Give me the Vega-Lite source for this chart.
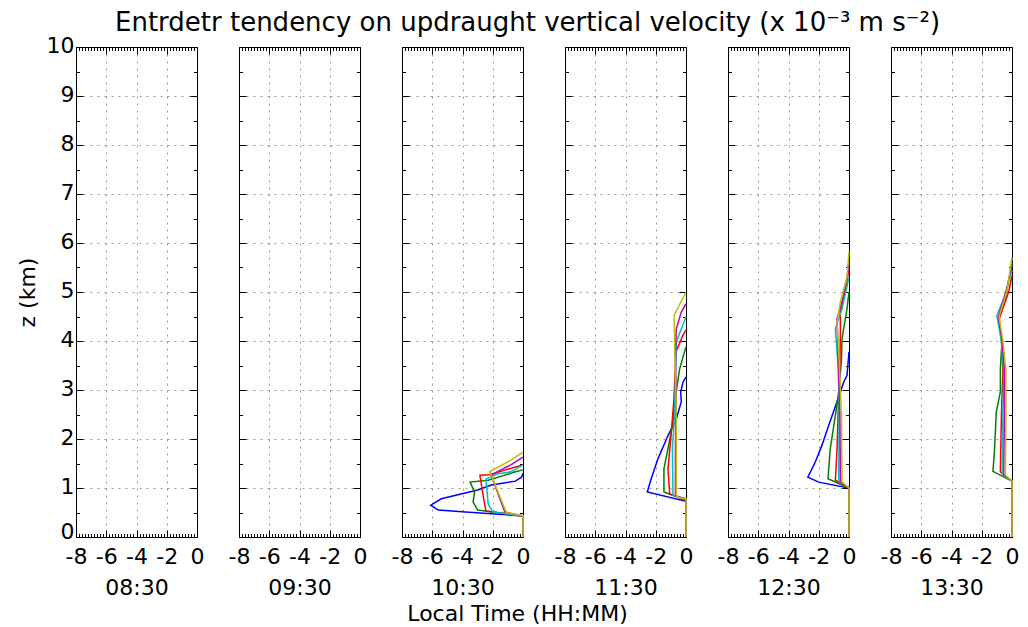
{
  "$schema": "https://vega.github.io/schema/vega-lite/v6.json",
  "autosize": {"type": "pad"},
  "padding": {"left": 15, "top": 9, "right": 5, "bottom": 0},
  "background": "white",
  "title": {"text": "Entrdetr tendency on updraught vertical velocity (x 10⁻³ m s⁻²)", "fontSize": 26, "font": "DejaVu Sans", "fontWeight": "normal", "color": "black", "anchor": "middle", "offset": -2, "dx": 10},
  "datasets": {
    "d": [
      {"t":"10:30","s":"s1","x":0,"z":0},{"t":"10:30","s":"s1","x":0,"z":0.43},{"t":"10:30","s":"s1","x":-3.8,"z":0.51},{"t":"10:30","s":"s1","x":-5.6,"z":0.55},{"t":"10:30","s":"s1","x":-6.1,"z":0.65},{"t":"10:30","s":"s1","x":-5.4,"z":0.78},{"t":"10:30","s":"s1","x":-3.0,"z":0.96},{"t":"10:30","s":"s1","x":-2.1,"z":1.06},{"t":"10:30","s":"s1","x":-0.5,"z":1.14},{"t":"10:30","s":"s1","x":-0.1,"z":1.22},{"t":"10:30","s":"s1","x":0,"z":1.3},
      {"t":"10:30","s":"s2","x":0,"z":0},{"t":"10:30","s":"s2","x":0,"z":0.43},{"t":"10:30","s":"s2","x":-3.0,"z":0.55},{"t":"10:30","s":"s2","x":-3.3,"z":0.71},{"t":"10:30","s":"s2","x":-3.2,"z":0.92},{"t":"10:30","s":"s2","x":-3.5,"z":1.12},{"t":"10:30","s":"s2","x":-2.3,"z":1.16},{"t":"10:30","s":"s2","x":-0.5,"z":1.33},{"t":"10:30","s":"s2","x":0,"z":1.37},
      {"t":"10:30","s":"s3","x":0,"z":0},{"t":"10:30","s":"s3","x":0,"z":0.43},{"t":"10:30","s":"s3","x":-2.45,"z":0.53},{"t":"10:30","s":"s3","x":-2.6,"z":0.78},{"t":"10:30","s":"s3","x":-2.85,"z":1.26},{"t":"10:30","s":"s3","x":-2.2,"z":1.27},{"t":"10:30","s":"s3","x":-0.5,"z":1.43},{"t":"10:30","s":"s3","x":0,"z":1.47},
      {"t":"10:30","s":"s4","x":0,"z":0},{"t":"10:30","s":"s4","x":0,"z":0.43},{"t":"10:30","s":"s4","x":-2.0,"z":0.51},{"t":"10:30","s":"s4","x":-2.3,"z":0.67},{"t":"10:30","s":"s4","x":-2.45,"z":1.18},{"t":"10:30","s":"s4","x":-1.65,"z":1.29},{"t":"10:30","s":"s4","x":-0.8,"z":1.33},{"t":"10:30","s":"s4","x":0,"z":1.47},
      {"t":"10:30","s":"s5","x":0,"z":0},{"t":"10:30","s":"s5","x":0,"z":0.43},{"t":"10:30","s":"s5","x":-1.2,"z":0.51},{"t":"10:30","s":"s5","x":-2.1,"z":1.26},{"t":"10:30","s":"s5","x":-1.6,"z":1.35},{"t":"10:30","s":"s5","x":-0.8,"z":1.47},{"t":"10:30","s":"s5","x":0,"z":1.63},
      {"t":"10:30","s":"s6","x":0,"z":0},{"t":"10:30","s":"s6","x":0,"z":0.43},{"t":"10:30","s":"s6","x":-1.1,"z":0.5},{"t":"10:30","s":"s6","x":-2.2,"z":1.33},{"t":"10:30","s":"s6","x":-0.8,"z":1.57},{"t":"10:30","s":"s6","x":0,"z":1.73},

      {"t":"11:30","s":"s1","x":0,"z":0},{"t":"11:30","s":"s1","x":0,"z":0.73},{"t":"11:30","s":"s1","x":-2.56,"z":0.92},{"t":"11:30","s":"s1","x":-2.3,"z":1.19},{"t":"11:30","s":"s1","x":-1.85,"z":1.6},{"t":"11:30","s":"s1","x":-1.19,"z":2.07},{"t":"11:30","s":"s1","x":-0.64,"z":2.41},{"t":"11:30","s":"s1","x":-0.31,"z":2.76},{"t":"11:30","s":"s1","x":-0.35,"z":2.96},{"t":"11:30","s":"s1","x":-0.2,"z":3.16},{"t":"11:30","s":"s1","x":0,"z":3.27},
      {"t":"11:30","s":"s2","x":0,"z":0},{"t":"11:30","s":"s2","x":0,"z":0.75},{"t":"11:30","s":"s2","x":-1.46,"z":0.92},{"t":"11:30","s":"s2","x":-1.46,"z":1.39},{"t":"11:30","s":"s2","x":-1.19,"z":1.8},{"t":"11:30","s":"s2","x":-0.86,"z":2.35},{"t":"11:30","s":"s2","x":-0.75,"z":2.76},{"t":"11:30","s":"s2","x":-0.42,"z":3.43},{"t":"11:30","s":"s2","x":-0.2,"z":3.67},{"t":"11:30","s":"s2","x":0,"z":3.88},
      {"t":"11:30","s":"s3","x":0,"z":0},{"t":"11:30","s":"s3","x":0,"z":0.76},{"t":"11:30","s":"s3","x":-1.08,"z":0.88},{"t":"11:30","s":"s3","x":-1.19,"z":1.39},{"t":"11:30","s":"s3","x":-0.97,"z":2.14},{"t":"11:30","s":"s3","x":-0.8,"z":2.8},{"t":"11:30","s":"s3","x":-0.66,"z":3.78},{"t":"11:30","s":"s3","x":-0.2,"z":4.12},{"t":"11:30","s":"s3","x":0,"z":4.22},
      {"t":"11:30","s":"s4","x":0,"z":0},{"t":"11:30","s":"s4","x":0,"z":0.77},{"t":"11:30","s":"s4","x":-0.86,"z":0.85},{"t":"11:30","s":"s4","x":-0.9,"z":1.8},{"t":"11:30","s":"s4","x":-0.75,"z":2.48},{"t":"11:30","s":"s4","x":-0.7,"z":3.2},{"t":"11:30","s":"s4","x":-0.64,"z":3.98},{"t":"11:30","s":"s4","x":-0.31,"z":4.25},{"t":"11:30","s":"s4","x":0,"z":4.49},
      {"t":"11:30","s":"s5","x":0,"z":0},{"t":"11:30","s":"s5","x":0,"z":0.78},{"t":"11:30","s":"s5","x":-0.7,"z":0.84},{"t":"11:30","s":"s5","x":-0.7,"z":1.8},{"t":"11:30","s":"s5","x":-0.65,"z":2.8},{"t":"11:30","s":"s5","x":-0.7,"z":3.7},{"t":"11:30","s":"s5","x":-0.64,"z":4.25},{"t":"11:30","s":"s5","x":-0.31,"z":4.59},{"t":"11:30","s":"s5","x":0,"z":4.76},
      {"t":"11:30","s":"s6","x":0,"z":0},{"t":"11:30","s":"s6","x":0,"z":0.78},{"t":"11:30","s":"s6","x":-0.64,"z":0.82},{"t":"11:30","s":"s6","x":-0.64,"z":2.49},{"t":"11:30","s":"s6","x":-0.75,"z":3.98},{"t":"11:30","s":"s6","x":-0.79,"z":4.52},{"t":"11:30","s":"s6","x":0,"z":5.0},

      {"t":"12:30","s":"s1","x":0,"z":0},{"t":"12:30","s":"s1","x":0,"z":1.0},{"t":"12:30","s":"s1","x":-2.0,"z":1.12},{"t":"12:30","s":"s1","x":-2.72,"z":1.22},{"t":"12:30","s":"s1","x":-2.23,"z":1.53},{"t":"12:30","s":"s1","x":-1.79,"z":1.87},{"t":"12:30","s":"s1","x":-1.34,"z":2.28},{"t":"12:30","s":"s1","x":-0.79,"z":2.76},{"t":"12:30","s":"s1","x":-0.35,"z":3.16},{"t":"12:30","s":"s1","x":-0.13,"z":3.3},{"t":"12:30","s":"s1","x":0,"z":3.78},
      {"t":"12:30","s":"s2","x":0,"z":0},{"t":"12:30","s":"s2","x":0,"z":1.0},{"t":"12:30","s":"s2","x":-1.39,"z":1.19},{"t":"12:30","s":"s2","x":-1.24,"z":1.8},{"t":"12:30","s":"s2","x":-0.9,"z":2.48},{"t":"12:30","s":"s2","x":-0.68,"z":2.96},{"t":"12:30","s":"s2","x":-0.5,"z":3.6},{"t":"12:30","s":"s2","x":-0.46,"z":4.05},{"t":"12:30","s":"s2","x":-0.13,"z":4.66},{"t":"12:30","s":"s2","x":0,"z":5.0},
      {"t":"12:30","s":"s3","x":0,"z":0},{"t":"12:30","s":"s3","x":0,"z":1.0},{"t":"12:30","s":"s3","x":-0.9,"z":1.16},{"t":"12:30","s":"s3","x":-0.79,"z":1.8},{"t":"12:30","s":"s3","x":-0.68,"z":2.96},{"t":"12:30","s":"s3","x":-0.6,"z":3.6},{"t":"12:30","s":"s3","x":-0.57,"z":4.12},{"t":"12:30","s":"s3","x":-0.57,"z":4.59},{"t":"12:30","s":"s3","x":-0.13,"z":5.2},{"t":"12:30","s":"s3","x":0,"z":5.5},
      {"t":"12:30","s":"s4","x":0,"z":0},{"t":"12:30","s":"s4","x":0,"z":1.0},{"t":"12:30","s":"s4","x":-0.68,"z":1.14},{"t":"12:30","s":"s4","x":-0.65,"z":2.5},{"t":"12:30","s":"s4","x":-0.7,"z":3.4},{"t":"12:30","s":"s4","x":-0.9,"z":4.25},{"t":"12:30","s":"s4","x":-0.46,"z":4.66},{"t":"12:30","s":"s4","x":0,"z":5.3},
      {"t":"12:30","s":"s5","x":0,"z":0},{"t":"12:30","s":"s5","x":0,"z":1.0},{"t":"12:30","s":"s5","x":-0.57,"z":1.13},{"t":"12:30","s":"s5","x":-0.6,"z":2.5},{"t":"12:30","s":"s5","x":-0.7,"z":3.5},{"t":"12:30","s":"s5","x":-0.79,"z":4.46},{"t":"12:30","s":"s5","x":-0.46,"z":4.8},{"t":"12:30","s":"s5","x":-0.13,"z":5.3},{"t":"12:30","s":"s5","x":0,"z":5.6},
      {"t":"12:30","s":"s6","x":0,"z":0},{"t":"12:30","s":"s6","x":0,"z":1.0},{"t":"12:30","s":"s6","x":-0.46,"z":1.12},{"t":"12:30","s":"s6","x":-0.5,"z":2.5},{"t":"12:30","s":"s6","x":-0.65,"z":3.6},{"t":"12:30","s":"s6","x":-0.79,"z":4.39},{"t":"12:30","s":"s6","x":-0.57,"z":4.8},{"t":"12:30","s":"s6","x":-0.13,"z":5.3},{"t":"12:30","s":"s6","x":0,"z":5.83},

      {"t":"13:30","s":"s2","x":0,"z":0},{"t":"13:30","s":"s2","x":0,"z":1.14},{"t":"13:30","s":"s2","x":-1.26,"z":1.34},{"t":"13:30","s":"s2","x":-1.15,"z":1.8},{"t":"13:30","s":"s2","x":-1.04,"z":2.55},{"t":"13:30","s":"s2","x":-0.77,"z":2.96},{"t":"13:30","s":"s2","x":-0.77,"z":3.43},{"t":"13:30","s":"s2","x":-0.66,"z":4.0},{"t":"13:30","s":"s2","x":-0.88,"z":4.49},{"t":"13:30","s":"s2","x":-0.44,"z":4.86},{"t":"13:30","s":"s2","x":0,"z":5.6},
      {"t":"13:30","s":"s3","x":0,"z":0},{"t":"13:30","s":"s3","x":0,"z":1.14},{"t":"13:30","s":"s3","x":-0.77,"z":1.33},{"t":"13:30","s":"s3","x":-0.7,"z":2.5},{"t":"13:30","s":"s3","x":-0.6,"z":3.4},{"t":"13:30","s":"s3","x":-0.7,"z":4.0},{"t":"13:30","s":"s3","x":-0.85,"z":4.45},{"t":"13:30","s":"s3","x":-0.22,"z":5.0},{"t":"13:30","s":"s3","x":0,"z":5.33},
      {"t":"13:30","s":"s4","x":0,"z":0},{"t":"13:30","s":"s4","x":0,"z":1.14},{"t":"13:30","s":"s4","x":-0.66,"z":1.29},{"t":"13:30","s":"s4","x":-0.6,"z":2.5},{"t":"13:30","s":"s4","x":-0.55,"z":3.4},{"t":"13:30","s":"s4","x":-0.7,"z":4.0},{"t":"13:30","s":"s4","x":-1.0,"z":4.52},{"t":"13:30","s":"s4","x":-0.5,"z":4.9},{"t":"13:30","s":"s4","x":0,"z":5.45},
      {"t":"13:30","s":"s5","x":0,"z":0},{"t":"13:30","s":"s5","x":0,"z":1.14},{"t":"13:30","s":"s5","x":-0.55,"z":1.27},{"t":"13:30","s":"s5","x":-0.5,"z":2.5},{"t":"13:30","s":"s5","x":-0.5,"z":3.4},{"t":"13:30","s":"s5","x":-0.65,"z":4.0},{"t":"13:30","s":"s5","x":-0.9,"z":4.5},{"t":"13:30","s":"s5","x":-0.4,"z":5.0},{"t":"13:30","s":"s5","x":0,"z":5.55},
      {"t":"13:30","s":"s6","x":0,"z":0},{"t":"13:30","s":"s6","x":0,"z":1.14},{"t":"13:30","s":"s6","x":-0.44,"z":1.26},{"t":"13:30","s":"s6","x":-0.4,"z":2.5},{"t":"13:30","s":"s6","x":-0.4,"z":3.4},{"t":"13:30","s":"s6","x":-0.6,"z":4.0},{"t":"13:30","s":"s6","x":-0.85,"z":4.5},{"t":"13:30","s":"s6","x":-0.35,"z":5.0},{"t":"13:30","s":"s6","x":0,"z":5.7}
    ]
  },
  "data": {"name": "d"},
  "vconcat": [
    {
      "title": {"text": "Local Time (HH:MM)", "orient": "bottom", "anchor": "middle", "fontSize": 22, "font": "DejaVu Sans", "fontWeight": "normal", "color": "black", "offset": 5},
      "spacing": 42,
      "bounds": "flush",
      "hconcat": [
        {
          "width": 121, "height": 490,
          "transform": [{"filter": "datum.t == '08:30'"}],
          "layer": [
            {"mark": {"type": "line", "strokeWidth": 1.5},
             "encoding": {
               "x": {"field": "x", "type": "quantitative", "scale": {"domain": [-8, 0], "nice": false}, "axis": {"orient": "bottom", "title": "08:30", "labelPadding": 16, "tickCount": 40, "labelExpr": "abs(datum.value/2-round(datum.value/2))<0.01 ? toString(round(datum.value)) : ''", "tickSize": {"condition": {"test": "abs(datum.value/2-round(datum.value/2))<0.01", "value": -7}, "value": -3.5}, "gridOpacity": {"condition": {"test": "abs(datum.value/2-round(datum.value/2))<0.01 && datum.value>-7.9 && datum.value<-0.1", "value": 0.5}, "value": 0}}},
               "y": {"field": "z", "type": "quantitative", "scale": {"domain": [0, 10], "nice": false}, "axis": {"orient": "left", "title": "z (km)", "labelPadding": 9, "labelOffset": {"condition": {"test": "datum.value < 0.1", "value": -6}, "value": -2}, "tickCount": 20, "labelExpr": "abs(datum.value-round(datum.value))<0.01 ? toString(round(datum.value)) : ''", "tickSize": {"condition": {"test": "abs(datum.value-round(datum.value))<0.01", "value": -7}, "value": -3.5}, "gridOpacity": {"condition": {"test": "abs(datum.value-round(datum.value))<0.01 && datum.value>0.1 && datum.value<9.9", "value": 0.5}, "value": 0}}},
               "color": {"field": "s", "type": "nominal", "scale": {"domain": ["s1","s2","s3","s4","s5","s6"], "range": ["#0000ff","#008000","#ff0000","#00bfbf","#bf00bf","#bfbf00"]}, "legend": null},
               "order": {"field": "z", "type": "quantitative"}
             }},
            {"mark": {"type": "point", "opacity": 0},
             "encoding": {
               "x": {"field": "x", "type": "quantitative", "axis": {"orient": "top", "title": null, "labels": false, "grid": false, "tickCount": 40, "tickSize": {"condition": {"test": "abs(datum.value/2-round(datum.value/2))<0.01", "value": -7}, "value": -3.5}}},
               "y": {"field": "z", "type": "quantitative", "axis": {"orient": "right", "title": null, "labels": false, "grid": false, "tickCount": 20, "tickSize": {"condition": {"test": "abs(datum.value-round(datum.value))<0.01", "value": -7}, "value": -3.5}}}
             }}
          ],
          "resolve": {"axis": {"x": "independent", "y": "independent"}}
        },
        {
          "width": 121, "height": 490,
          "transform": [{"filter": "datum.t == '09:30'"}],
          "layer": [
            {"mark": {"type": "line", "strokeWidth": 1.5},
             "encoding": {
               "x": {"field": "x", "type": "quantitative", "scale": {"domain": [-8, 0], "nice": false}, "axis": {"orient": "bottom", "title": "09:30", "labelPadding": 16, "tickCount": 40, "labelExpr": "abs(datum.value/2-round(datum.value/2))<0.01 ? toString(round(datum.value)) : ''", "tickSize": {"condition": {"test": "abs(datum.value/2-round(datum.value/2))<0.01", "value": -7}, "value": -3.5}, "gridOpacity": {"condition": {"test": "abs(datum.value/2-round(datum.value/2))<0.01 && datum.value>-7.9 && datum.value<-0.1", "value": 0.5}, "value": 0}}},
               "y": {"field": "z", "type": "quantitative", "scale": {"domain": [0, 10], "nice": false}, "axis": {"orient": "left", "title": null, "labels": false, "tickCount": 20, "tickSize": {"condition": {"test": "abs(datum.value-round(datum.value))<0.01", "value": -7}, "value": -3.5}, "gridOpacity": {"condition": {"test": "abs(datum.value-round(datum.value))<0.01 && datum.value>0.1 && datum.value<9.9", "value": 0.5}, "value": 0}}},
               "color": {"field": "s", "type": "nominal", "scale": {"domain": ["s1","s2","s3","s4","s5","s6"], "range": ["#0000ff","#008000","#ff0000","#00bfbf","#bf00bf","#bfbf00"]}, "legend": null},
               "order": {"field": "z", "type": "quantitative"}
             }},
            {"mark": {"type": "point", "opacity": 0},
             "encoding": {
               "x": {"field": "x", "type": "quantitative", "axis": {"orient": "top", "title": null, "labels": false, "grid": false, "tickCount": 40, "tickSize": {"condition": {"test": "abs(datum.value/2-round(datum.value/2))<0.01", "value": -7}, "value": -3.5}}},
               "y": {"field": "z", "type": "quantitative", "axis": {"orient": "right", "title": null, "labels": false, "grid": false, "tickCount": 20, "tickSize": {"condition": {"test": "abs(datum.value-round(datum.value))<0.01", "value": -7}, "value": -3.5}}}
             }}
          ],
          "resolve": {"axis": {"x": "independent", "y": "independent"}}
        },
        {
          "width": 121, "height": 490,
          "transform": [{"filter": "datum.t == '10:30'"}],
          "layer": [
            {"mark": {"type": "line", "strokeWidth": 1.5},
             "encoding": {
               "x": {"field": "x", "type": "quantitative", "scale": {"domain": [-8, 0], "nice": false}, "axis": {"orient": "bottom", "title": "10:30", "labelPadding": 16, "tickCount": 40, "labelExpr": "abs(datum.value/2-round(datum.value/2))<0.01 ? toString(round(datum.value)) : ''", "tickSize": {"condition": {"test": "abs(datum.value/2-round(datum.value/2))<0.01", "value": -7}, "value": -3.5}, "gridOpacity": {"condition": {"test": "abs(datum.value/2-round(datum.value/2))<0.01 && datum.value>-7.9 && datum.value<-0.1", "value": 0.5}, "value": 0}}},
               "y": {"field": "z", "type": "quantitative", "scale": {"domain": [0, 10], "nice": false}, "axis": {"orient": "left", "title": null, "labels": false, "tickCount": 20, "tickSize": {"condition": {"test": "abs(datum.value-round(datum.value))<0.01", "value": -7}, "value": -3.5}, "gridOpacity": {"condition": {"test": "abs(datum.value-round(datum.value))<0.01 && datum.value>0.1 && datum.value<9.9", "value": 0.5}, "value": 0}}},
               "color": {"field": "s", "type": "nominal", "scale": {"domain": ["s1","s2","s3","s4","s5","s6"], "range": ["#0000ff","#008000","#ff0000","#00bfbf","#bf00bf","#bfbf00"]}, "legend": null},
               "order": {"field": "z", "type": "quantitative"}
             }},
            {"mark": {"type": "point", "opacity": 0},
             "encoding": {
               "x": {"field": "x", "type": "quantitative", "axis": {"orient": "top", "title": null, "labels": false, "grid": false, "tickCount": 40, "tickSize": {"condition": {"test": "abs(datum.value/2-round(datum.value/2))<0.01", "value": -7}, "value": -3.5}}},
               "y": {"field": "z", "type": "quantitative", "axis": {"orient": "right", "title": null, "labels": false, "grid": false, "tickCount": 20, "tickSize": {"condition": {"test": "abs(datum.value-round(datum.value))<0.01", "value": -7}, "value": -3.5}}}
             }}
          ],
          "resolve": {"axis": {"x": "independent", "y": "independent"}}
        },
        {
          "width": 121, "height": 490,
          "transform": [{"filter": "datum.t == '11:30'"}],
          "layer": [
            {"mark": {"type": "line", "strokeWidth": 1.5},
             "encoding": {
               "x": {"field": "x", "type": "quantitative", "scale": {"domain": [-8, 0], "nice": false}, "axis": {"orient": "bottom", "title": "11:30", "labelPadding": 16, "tickCount": 40, "labelExpr": "abs(datum.value/2-round(datum.value/2))<0.01 ? toString(round(datum.value)) : ''", "tickSize": {"condition": {"test": "abs(datum.value/2-round(datum.value/2))<0.01", "value": -7}, "value": -3.5}, "gridOpacity": {"condition": {"test": "abs(datum.value/2-round(datum.value/2))<0.01 && datum.value>-7.9 && datum.value<-0.1", "value": 0.5}, "value": 0}}},
               "y": {"field": "z", "type": "quantitative", "scale": {"domain": [0, 10], "nice": false}, "axis": {"orient": "left", "title": null, "labels": false, "tickCount": 20, "tickSize": {"condition": {"test": "abs(datum.value-round(datum.value))<0.01", "value": -7}, "value": -3.5}, "gridOpacity": {"condition": {"test": "abs(datum.value-round(datum.value))<0.01 && datum.value>0.1 && datum.value<9.9", "value": 0.5}, "value": 0}}},
               "color": {"field": "s", "type": "nominal", "scale": {"domain": ["s1","s2","s3","s4","s5","s6"], "range": ["#0000ff","#008000","#ff0000","#00bfbf","#bf00bf","#bfbf00"]}, "legend": null},
               "order": {"field": "z", "type": "quantitative"}
             }},
            {"mark": {"type": "point", "opacity": 0},
             "encoding": {
               "x": {"field": "x", "type": "quantitative", "axis": {"orient": "top", "title": null, "labels": false, "grid": false, "tickCount": 40, "tickSize": {"condition": {"test": "abs(datum.value/2-round(datum.value/2))<0.01", "value": -7}, "value": -3.5}}},
               "y": {"field": "z", "type": "quantitative", "axis": {"orient": "right", "title": null, "labels": false, "grid": false, "tickCount": 20, "tickSize": {"condition": {"test": "abs(datum.value-round(datum.value))<0.01", "value": -7}, "value": -3.5}}}
             }}
          ],
          "resolve": {"axis": {"x": "independent", "y": "independent"}}
        },
        {
          "width": 121, "height": 490,
          "transform": [{"filter": "datum.t == '12:30'"}],
          "layer": [
            {"mark": {"type": "line", "strokeWidth": 1.5},
             "encoding": {
               "x": {"field": "x", "type": "quantitative", "scale": {"domain": [-8, 0], "nice": false}, "axis": {"orient": "bottom", "title": "12:30", "labelPadding": 16, "tickCount": 40, "labelExpr": "abs(datum.value/2-round(datum.value/2))<0.01 ? toString(round(datum.value)) : ''", "tickSize": {"condition": {"test": "abs(datum.value/2-round(datum.value/2))<0.01", "value": -7}, "value": -3.5}, "gridOpacity": {"condition": {"test": "abs(datum.value/2-round(datum.value/2))<0.01 && datum.value>-7.9 && datum.value<-0.1", "value": 0.5}, "value": 0}}},
               "y": {"field": "z", "type": "quantitative", "scale": {"domain": [0, 10], "nice": false}, "axis": {"orient": "left", "title": null, "labels": false, "tickCount": 20, "tickSize": {"condition": {"test": "abs(datum.value-round(datum.value))<0.01", "value": -7}, "value": -3.5}, "gridOpacity": {"condition": {"test": "abs(datum.value-round(datum.value))<0.01 && datum.value>0.1 && datum.value<9.9", "value": 0.5}, "value": 0}}},
               "color": {"field": "s", "type": "nominal", "scale": {"domain": ["s1","s2","s3","s4","s5","s6"], "range": ["#0000ff","#008000","#ff0000","#00bfbf","#bf00bf","#bfbf00"]}, "legend": null},
               "order": {"field": "z", "type": "quantitative"}
             }},
            {"mark": {"type": "point", "opacity": 0},
             "encoding": {
               "x": {"field": "x", "type": "quantitative", "axis": {"orient": "top", "title": null, "labels": false, "grid": false, "tickCount": 40, "tickSize": {"condition": {"test": "abs(datum.value/2-round(datum.value/2))<0.01", "value": -7}, "value": -3.5}}},
               "y": {"field": "z", "type": "quantitative", "axis": {"orient": "right", "title": null, "labels": false, "grid": false, "tickCount": 20, "tickSize": {"condition": {"test": "abs(datum.value-round(datum.value))<0.01", "value": -7}, "value": -3.5}}}
             }}
          ],
          "resolve": {"axis": {"x": "independent", "y": "independent"}}
        },
        {
          "width": 121, "height": 490,
          "transform": [{"filter": "datum.t == '13:30'"}],
          "layer": [
            {"mark": {"type": "line", "strokeWidth": 1.5},
             "encoding": {
               "x": {"field": "x", "type": "quantitative", "scale": {"domain": [-8, 0], "nice": false}, "axis": {"orient": "bottom", "title": "13:30", "labelPadding": 16, "tickCount": 40, "labelExpr": "abs(datum.value/2-round(datum.value/2))<0.01 ? toString(round(datum.value)) : ''", "tickSize": {"condition": {"test": "abs(datum.value/2-round(datum.value/2))<0.01", "value": -7}, "value": -3.5}, "gridOpacity": {"condition": {"test": "abs(datum.value/2-round(datum.value/2))<0.01 && datum.value>-7.9 && datum.value<-0.1", "value": 0.5}, "value": 0}}},
               "y": {"field": "z", "type": "quantitative", "scale": {"domain": [0, 10], "nice": false}, "axis": {"orient": "left", "title": null, "labels": false, "tickCount": 20, "tickSize": {"condition": {"test": "abs(datum.value-round(datum.value))<0.01", "value": -7}, "value": -3.5}, "gridOpacity": {"condition": {"test": "abs(datum.value-round(datum.value))<0.01 && datum.value>0.1 && datum.value<9.9", "value": 0.5}, "value": 0}}},
               "color": {"field": "s", "type": "nominal", "scale": {"domain": ["s1","s2","s3","s4","s5","s6"], "range": ["#0000ff","#008000","#ff0000","#00bfbf","#bf00bf","#bfbf00"]}, "legend": null},
               "order": {"field": "z", "type": "quantitative"}
             }},
            {"mark": {"type": "point", "opacity": 0},
             "encoding": {
               "x": {"field": "x", "type": "quantitative", "axis": {"orient": "top", "title": null, "labels": false, "grid": false, "tickCount": 40, "tickSize": {"condition": {"test": "abs(datum.value/2-round(datum.value/2))<0.01", "value": -7}, "value": -3.5}}},
               "y": {"field": "z", "type": "quantitative", "axis": {"orient": "right", "title": null, "labels": false, "grid": false, "tickCount": 20, "tickSize": {"condition": {"test": "abs(datum.value-round(datum.value))<0.01", "value": -7}, "value": -3.5}}}
             }}
          ],
          "resolve": {"axis": {"x": "independent", "y": "independent"}}
        }
      ]
    }
  ],
  "config": {
    "font": "DejaVu Sans",
    "view": {"stroke": "black", "strokeWidth": 1},
    "axis": {
      "domainColor": "black", "domainWidth": 1, "tickColor": "black", "tickWidth": 1,
      "labelFont": "DejaVu Sans", "labelFontSize": 22, "labelColor": "black",
      "labelOverlap": false, "labelFlush": false,
      "titleFont": "DejaVu Sans", "titleFontSize": 22, "titleFontWeight": "normal", "titleColor": "black", "titlePadding": 7,
      "grid": true, "gridColor": "black", "gridDash": [2, 5], "gridWidth": 0.8
    }
  }
}
